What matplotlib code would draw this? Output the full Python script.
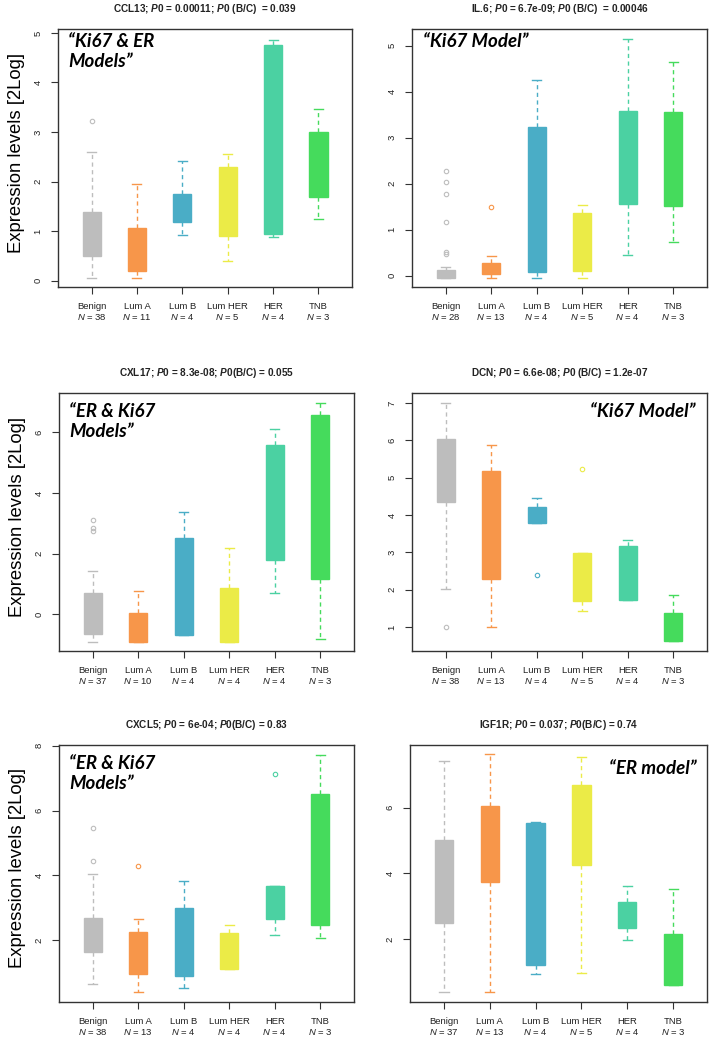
import matplotlib
matplotlib.use('agg')
import matplotlib.pyplot as plt

plt.rcParams.update({
    "font.family": "Liberation Sans",
    "mathtext.fontset": "custom",
    "mathtext.rm": "Liberation Sans",
    "mathtext.it": "Liberation Sans:italic",
    "mathtext.bf": "Liberation Sans:bold",
    "mathtext.bfit": "Liberation Sans:italic:bold",
})

groups = ['Benign', 'Lum A', 'Lum B', 'Lum HER', 'HER', 'TNB']
colors = ['#BDBDBD', '#F7964A', '#4AADC6', '#EBEB47', '#4BD1A2', '#45DB5C']

# CCL13
ccl13_n = [38, 11, 4, 5, 4, 3]
ccl13_q1 = [0.50, 0.20, 1.18, 0.90, 0.94, 1.68]
ccl13_med = [0.90, 0.55, 1.45, 1.60, 2.80, 2.30]
ccl13_q3 = [1.39, 1.06, 1.75, 2.29, 4.75, 2.99]
ccl13_lo = [0.05, 0.05, 0.92, 0.39, 0.88, 1.24]
ccl13_hi = [2.59, 1.94, 2.42, 2.56, 4.85, 3.47]
ccl13_out = [[3.22], [], [], [], [], []]

# IL.6
il6_n = [28, 13, 4, 5, 4, 3]
il6_q1 = [-0.05, 0.04, 0.08, 0.09, 1.55, 1.51]
il6_med = [0.03, 0.15, 1.60, 0.70, 2.50, 2.50]
il6_q3 = [0.12, 0.28, 3.22, 1.35, 3.57, 3.55]
il6_lo = [-0.05, -0.05, -0.05, -0.05, 0.44, 0.72]
il6_hi = [0.19, 0.42, 4.26, 1.53, 5.15, 4.64]
il6_out = [[2.27, 2.03, 1.78, 1.17, 0.52, 0.46], [1.50], [], [], [], []]

# CXL17
cxl17_n = [37, 10, 4, 4, 4, 3]
cxl17_q1 = [-0.64, -0.91, -0.67, -0.91, 1.78, 1.15]
cxl17_med = [0.00, -0.40, 0.90, 0.00, 3.70, 3.80]
cxl17_q3 = [0.71, 0.05, 2.51, 0.88, 5.60, 6.57]
cxl17_lo = [-0.91, -0.91, -0.67, -0.91, 0.71, -0.82]
cxl17_hi = [1.43, 0.77, 3.37, 2.19, 6.12, 6.97]
cxl17_out = [[3.12, 2.86, 2.74], [], [], [], [], []]

# DCN
dcn_n = [38, 13, 4, 5, 4, 3]
dcn_q1 = [4.35, 2.29, 3.78, 1.70, 1.73, 0.62]
dcn_med = [5.20, 3.70, 4.00, 2.30, 2.40, 1.00]
dcn_q3 = [6.03, 5.18, 4.22, 2.99, 3.18, 1.37]
dcn_lo = [2.01, 1.00, 3.78, 1.43, 1.73, 0.62]
dcn_hi = [7.00, 5.88, 4.46, 2.99, 3.34, 1.86]
dcn_out = [[1.00], [], [2.40], [5.24], [], []]

# CXCL5
cxcl5_n = [38, 13, 4, 4, 4, 3]
cxcl5_q1 = [1.64, 0.95, 0.90, 1.13, 2.65, 2.48]
cxcl5_med = [2.20, 1.60, 2.00, 1.70, 3.20, 4.50]
cxcl5_q3 = [2.69, 2.25, 2.99, 2.24, 3.66, 6.52]
cxcl5_lo = [0.65, 0.40, 0.52, 1.13, 2.15, 2.06]
cxcl5_hi = [4.04, 2.67, 3.84, 2.46, 3.66, 7.72]
cxcl5_out = [[4.43, 5.45], [4.30], [], [], [7.12], []]

# IGF1R
igf1r_n = [37, 13, 4, 5, 4, 3]
igf1r_q1 = [2.48, 3.73, 1.21, 4.24, 2.34, 0.62]
igf1r_med = [3.70, 4.90, 3.40, 5.40, 2.70, 1.40]
igf1r_q3 = [5.00, 6.06, 5.54, 6.68, 3.13, 2.16]
igf1r_lo = [0.38, 0.38, 0.95, 0.97, 1.96, 0.62]
igf1r_hi = [7.41, 7.63, 5.56, 7.54, 3.60, 3.52]
igf1r_out = [[], [], [], [], [], []]

panels = [
    dict(title=r"CCL13; $\mathbfit{P}$0 = 0.00011; $\mathbfit{P}$0 (B/C)  = 0.039",
         n=ccl13_n, q1=ccl13_q1, med=ccl13_med, q3=ccl13_q3, lo=ccl13_lo, hi=ccl13_hi, out=ccl13_out,
         ylim=(-0.13, 5.08), yticks=[0, 1, 2, 3, 4, 5],
         note="\u201cKi67 & ER\nModels\u201d", nx=0.034, ny=0.985, ha='left'),
    dict(title=r"IL.6; $\mathbfit{P}$0 = 6.7e-09; $\mathbfit{P}$0 (B/C)  = 0.00046",
         n=il6_n, q1=il6_q1, med=il6_med, q3=il6_q3, lo=il6_lo, hi=il6_hi, out=il6_out,
         ylim=(-0.25, 5.36), yticks=[0, 1, 2, 3, 4, 5],
         note="\u201cKi67 Model\u201d", nx=0.037, ny=0.985, ha='left'),
    dict(title=r"CXL17; $\mathbfit{P}$0 = 8.3e-08; $\mathbfit{P}$0(B/C) = 0.055",
         n=cxl17_n, q1=cxl17_q1, med=cxl17_med, q3=cxl17_q3, lo=cxl17_lo, hi=cxl17_hi, out=cxl17_out,
         ylim=(-1.21, 7.30), yticks=[0, 2, 4, 6],
         note="\u201cER & Ki67\nModels\u201d", nx=0.034, ny=0.96, ha='left'),
    dict(title=r"DCN; $\mathbfit{P}$0 = 6.6e-08; $\mathbfit{P}$0 (B/C) = 1.2e-07",
         n=dcn_n, q1=dcn_q1, med=dcn_med, q3=dcn_q3, lo=dcn_lo, hi=dcn_hi, out=dcn_out,
         ylim=(0.36, 7.27), yticks=[1, 2, 3, 4, 5, 6, 7],
         note="\u201cKi67 Model\u201d", nx=0.96, ny=0.96, ha='right'),
    dict(title=r"CXCL5; $\mathbfit{P}$0 = 6e-04; $\mathbfit{P}$0(B/C) = 0.83",
         n=cxcl5_n, q1=cxcl5_q1, med=cxcl5_med, q3=cxcl5_q3, lo=cxcl5_lo, hi=cxcl5_hi, out=cxcl5_out,
         ylim=(0.10, 8.02), yticks=[2, 4, 6, 8],
         note="\u201cER & Ki67\nModels\u201d", nx=0.034, ny=0.96, ha='left'),
    dict(title=r"IGF1R; $\mathbfit{P}$0 = 0.037; $\mathbfit{P}$0(B/C) = 0.74",
         n=igf1r_n, q1=igf1r_q1, med=igf1r_med, q3=igf1r_q3, lo=igf1r_lo, hi=igf1r_hi, out=igf1r_out,
         ylim=(0.09, 7.90), yticks=[2, 4, 6],
         note="\u201cER model\u201d", nx=0.966, ny=0.94, ha='right'),
]

# axes rectangles in pixels: left, top, right, bottom
W, H = 709, 1038
rects = [(58, 29, 352, 287), (412, 29, 707, 287),
         (59, 393, 354, 651), (412, 393, 707, 651),
         (59, 745, 354, 1002), (410, 745, 707, 1002)]

fig = plt.figure(figsize=(W / 100, H / 100), dpi=100)
frame_c = '#333333'

for i, (p, (l, t, r, b)) in enumerate(zip(panels, rects)):
    ax = fig.add_axes([l / W, 1 - b / H, (r - l) / W, (b - t) / H])
    stats = []
    for k in range(len(groups)):
        stats.append(dict(med=p['med'][k], q1=p['q1'][k], q3=p['q3'][k],
                          whislo=p['lo'][k], whishi=p['hi'][k], fliers=p['out'][k]))
    bp = ax.bxp(stats, positions=range(1, 7), widths=0.4, capwidths=0.2,
                patch_artist=True, manage_ticks=False)
    for k, c in enumerate(colors):
        bp['boxes'][k].set(facecolor=c, edgecolor=c, linewidth=1)
        bp['medians'][k].set(color=c, linewidth=1)
        for w in bp['whiskers'][2 * k:2 * k + 2]:
            w.set(color=c, linewidth=1, linestyle=(0, (3, 2.5)))
        for cp in bp['caps'][2 * k:2 * k + 2]:
            cp.set(color=c, linewidth=1)
        bp['fliers'][k].set(marker='o', markersize=3.2, markerfacecolor='none',
                            markeredgecolor=c, markeredgewidth=0.8)

    ax.set_xlim(0.26, 6.74)
    ax.set_ylim(*p['ylim'])
    ax.set_xticks(range(1, 7))
    ax.set_xticklabels([f"{g}\n$\\mathit{{N}}$ = {n}" for g, n in zip(groups, p['n'])],
                       fontsize=6.8, color='#222222', linespacing=1.1)
    ax.set_yticks(p['yticks'])
    ax.set_yticklabels([str(v) for v in p['yticks']], rotation=90, va='center',
                       fontsize=6.8, color='#222222')
    ax.tick_params(axis='both', length=5, width=0.8, color=frame_c)
    ax.tick_params(axis='x', pad=6)
    ax.tick_params(axis='y', pad=6)
    for s in ax.spines.values():
        s.set_color(frame_c)
        s.set_linewidth(1)
    ax.set_title(p['title'], fontsize=7.2, fontweight='bold', pad=12, color='#222222')
    ax.text(p['nx'], p['ny'], p['note'], transform=ax.transAxes, ha=p['ha'], va='top',
            fontsize=13.5, fontweight='bold', style='italic', family='Lato',
            linespacing=1.2)
    if i % 2 == 0:
        ax.set_ylabel('Expression levels [2Log]', fontsize=13.3)
        ax.yaxis.set_label_coords(-0.112, 0.52)

fig.savefig('out.png', dpi=100)
